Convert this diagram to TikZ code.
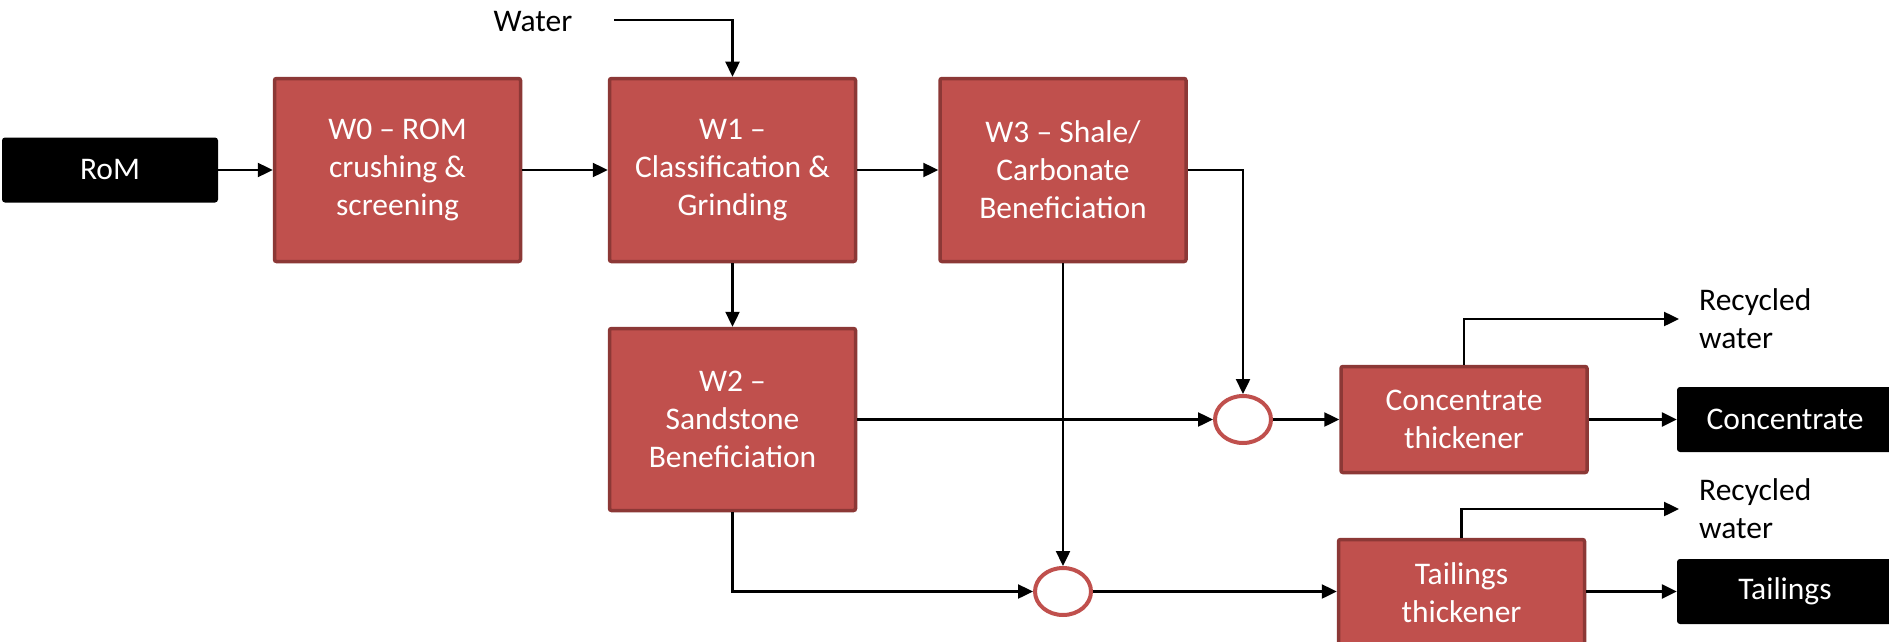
\documentclass[tikz,border=0pt]{standalone}
\usepackage{fontspec}
\setmainfont{Carlito}
\usetikzlibrary{arrows.meta,shapes.geometric}
\definecolor{boxred}{HTML}{C0504D}
\definecolor{boxedge}{HTML}{8C3836}
\begin{document}
\begin{tikzpicture}[x=1pt,y=-1pt,
  every node/.style={font=\fontsize{31.5}{38}\selectfont},
  proc/.style={draw=boxedge,line width=3.5pt,fill=boxred,text=white,align=center,
    inner sep=0pt,rounded corners=2pt,minimum width=246pt},
  blk/.style={fill=black,text=white,inner sep=0pt,rounded corners=3pt,
    minimum width=216pt,minimum height=65pt},
  mix/.style={draw=boxred,line width=4pt,fill=white,ellipse,inner sep=0pt,
    minimum width=56pt,minimum height=47pt},
  flow/.style={draw=black,line width=2.4pt,-{Triangle[length=15pt,width=14pt]}},
  lbl/.style={text=black,align=left,inner sep=0pt}]
\useasboundingbox (0,0) rectangle (1889,642);
\node[blk] (rom) at (110,170) {RoM};
\node[proc,minimum height=183pt] (w0) at (397.5,170) {W0 – ROM\\crushing \&\\screening};
\node[proc,minimum height=183pt] (w1) at (732.5,170) {W1 –\\Classification \&\\Grinding};
\node[proc,minimum height=183pt] (w3) at (1063,170) {W3 – Shale/\\Carbonate\\Beneficiation};
\node[proc,minimum height=182pt] (w2) at (732.5,419.5) {W2 –\\Sandstone\\Beneficiation};
\node[mix] (cc) at (1243,419.5) {};
\node[mix] (tc) at (1063,591.5) {};
\node[proc,minimum height=106pt] (ct) at (1464,419.5) {Concentrate\\thickener};
\node[proc,minimum height=106pt] (tt) at (1461.5,592.5) {Tailings\\thickener};
\node[blk] (conc) at (1785,419.5) {Concentrate};
\node[blk] (tail) at (1785,591.5) {Tailings};
\node[lbl] (water) at (533,22) {Water};
\coordinate (wsrc) at (614,20);
\node[lbl,anchor=west] (rw1) at (1679,319) {\hspace*{20pt}Recycled\\\hspace*{20pt}water};
\node[lbl,anchor=west] (rw2) at (1679,509) {\hspace*{20pt}Recycled\\\hspace*{20pt}water};
\draw[flow] (rom.east) -- (w0.west);
\draw[flow] (w0.east) -- (w1.west);
\draw[flow] (w1.east) -- (w3.west);
\draw[flow] (wsrc) -| (w1.north);
\draw[flow] (w1.south) -- (w2.north);
\draw[flow] (w3.east) -| (cc.north);
\draw[flow] (w3.south) -- (tc.north);
\draw[flow] (w2.east) -- (cc.west);
\draw[flow] (w2.south) |- (tc.west);
\draw[flow] (cc.east) -- (ct.west);
\draw[flow] (tc.east) -- (tc.east -| tt.west);
\draw[flow] (ct.north) |- (rw1.west);
\draw[flow] (tt.north) |- (rw2.west);
\draw[flow] (ct.east) -- (conc.west);
\draw[flow] (tail.west -| tt.east) -- (tail.west);
\end{tikzpicture}
\end{document}
